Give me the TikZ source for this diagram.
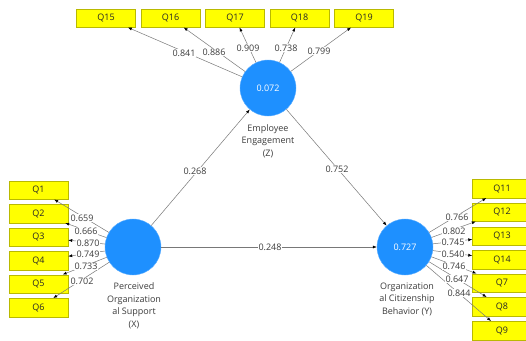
\documentclass[tikz,border=0pt]{standalone}
\usepackage{fontspec}
\setmainfont{Open Sans}
\usetikzlibrary{arrows.meta,calc}
\definecolor{lvblue}{RGB}{30,144,255}
\definecolor{qyellow}{RGB}{255,255,0}
\definecolor{qborder}{RGB}{185,185,0}
\definecolor{linegray}{RGB}{120,120,120}
\definecolor{txtgray}{RGB}{60,60,60}
\begin{document}
\begin{tikzpicture}[x=1pt,y=-1pt,
  ind/.style={draw=qborder, fill=qyellow, minimum width=59pt, minimum height=18.5pt, inner sep=0pt, font=\fontsize{9}{10}\selectfont, text=black!85},
  lv/.style={circle, fill=lvblue, draw=lvblue!70, minimum size=56pt, inner sep=0pt, text=white, font=\fontsize{9}{10}\selectfont},
  lvlab/.style={align=center, text=txtgray, font=\fontsize{9}{12.5}\selectfont},
  conn/.style={draw=linegray, line width=0.5pt, -{Latex[length=4pt,width=3pt,color=black]}},
  coef/.style={fill=white, inner sep=0.6pt, text=txtgray, font=\fontsize{9}{10}\selectfont}
]
\useasboundingbox (0,0) rectangle (526,340);
\clip (0,0) rectangle (526,340);
\fill[white] (0,0) rectangle (526,340);

% latent variables
\node[lv] (Z) at (268,88) {0.072};
\node[lv] (X) at (133,247) {};
\node[lv] (Y) at (405,247) {0.727};
\node[lvlab] (Zl) at (268,141) {Employee\\Engagement\\(Z)};
\node[lvlab] (Xl) at (134,306) {Perceived\\Organization\\al Support\\(X)};
\node[lvlab] (Yl) at (407,299) {Organization\\al Citizenship\\Behavior (Y)};

% indicators top
\node[ind] (Q15) at (106,18) {Q15};
\node[ind] (Q16) at (170.5,18) {Q16};
\node[ind] (Q17) at (235,18) {Q17};
\node[ind] (Q18) at (299.5,18) {Q18};
\node[ind] (Q19) at (364,18) {Q19};
% indicators left
\node[ind] (Q1) at (38.5,190) {Q1};
\node[ind] (Q2) at (38.5,213.5) {Q2};
\node[ind] (Q3) at (38.5,237) {Q3};
\node[ind] (Q4) at (38.5,260.5) {Q4};
\node[ind] (Q5) at (38.5,284) {Q5};
\node[ind] (Q6) at (38.5,307.5) {Q6};
% indicators right
\node[ind] (Q11) at (502,188.5) {Q11};
\node[ind] (Q12) at (502,212) {Q12};
\node[ind] (Q13) at (502,236) {Q13};
\node[ind] (Q14) at (502,259.5) {Q14};
\node[ind] (Q7) at (502,283) {Q7};
\node[ind] (Q8) at (502,306.5) {Q8};
\node[ind] (Q9) at (502,330.5) {Q9};

% structural paths
\draw[conn] (X) -- (Z);
\draw[conn] (Z) -- (Y);
\draw[conn] (X) -- (Y);
\node[coef] (c1) at (195,171) {0.268};
\node[coef] (c2) at (337,169) {0.752};
\node[coef] (c3) at (270,247) {0.248};

% loadings Z
\foreach \q in {Q15,Q16,Q17,Q18,Q19} \draw[conn] (Z) -- (\q);
\node[coef] (l15) at (184,53) {0.841};
\node[coef] (l16) at (214,52) {0.886};
\node[coef] (l17) at (248,48) {0.909};
\node[coef] (l18) at (286,48) {0.738};
\node[coef] (l19) at (319,51) {0.799};

% loadings X
\foreach \q in {Q1,Q2,Q3,Q4,Q5,Q6} \draw[conn] (X) -- (\q);
\node[coef] (l1) at (82,218) {0.659};
\node[coef] (l2) at (86,231) {0.666};
\node[coef] (l3) at (88,243) {0.870};
\node[coef] (l4) at (88,254.5) {0.749};
\node[coef] (l5) at (86,266.5) {0.733};
\node[coef] (l6) at (82,281) {0.702};

% loadings Y
\foreach \q in {Q11,Q12,Q13,Q14,Q7,Q8,Q9} \draw[conn] (Y) -- (\q);
\node[coef] (l11) at (457,217) {0.766};
\node[coef] (l12) at (454,231) {0.802};
\node[coef] (l13) at (453,242) {0.745};
\node[coef] (l14) at (453,254) {0.540};
\node[coef] (l7) at (454,266) {0.746};
\node[coef] (l8) at (457,279) {0.647};
\node[coef] (l9) at (459,293) {0.844};
\end{tikzpicture}
\end{document}
